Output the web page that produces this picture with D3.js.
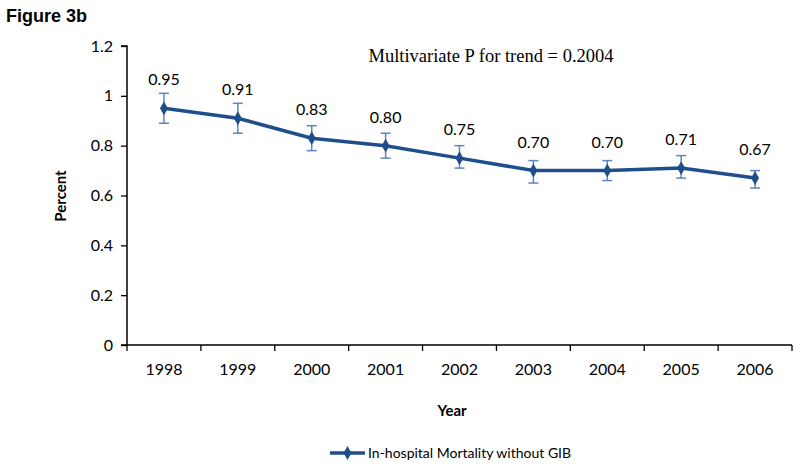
<!DOCTYPE html>
<html>
<head>
<meta charset="utf-8">
<script src="https://cdn.jsdelivr.net/npm/d3@7"></script>
<style>
body { margin: 0; background: #fff; }
</style>
</head>
<body>
<div id="chart"></div>
<script>
var years = ["1998", "1999", "2000", "2001", "2002", "2003", "2004", "2005", "2006"];
var mortality = [0.95, 0.91, 0.83, 0.80, 0.75, 0.70, 0.70, 0.71, 0.67];
var lower = [0.89, 0.85, 0.78, 0.75, 0.71, 0.65, 0.66, 0.67, 0.63];
var upper = [1.01, 0.97, 0.88, 0.85, 0.80, 0.74, 0.74, 0.76, 0.70];
var yTicks = [0, 0.2, 0.4, 0.6, 0.8, 1, 1.2];

var width = 800, height = 469;
var labelFont = "Lato, 'Open Sans', sans-serif";

var svg = d3.select("#chart").append("svg")
    .attr("width", width)
    .attr("height", height);

var xScale = d3.scaleBand()
    .domain(years)
    .range([127, 792]);

var yScale = d3.scaleLinear()
    .domain([0, 1.2])
    .range([345, 46]);

var data = years.map(function (y, i) {
    return { year: y, value: mortality[i], lo: lower[i], hi: upper[i] };
});

// y axis
var yAxis = d3.axisLeft(yScale)
    .tickValues(yTicks)
    .tickSize(6)
    .tickFormat(function (d) { return d3.format("")(+d.toFixed(1)); });

var gy = svg.append("g")
    .attr("transform", "translate(127,0)")
    .call(yAxis);
gy.select(".domain").attr("stroke", "#000").attr("stroke-width", 1.5).attr("d", "M-6,46H0V345H-6");
gy.selectAll(".tick line").attr("stroke", "#000").attr("stroke-width", 1.3);
gy.selectAll(".tick text")
    .attr("x", -14)
    .style("font-family", labelFont)
    .style("font-size", "16px")
    .attr("fill", "#000");

// x axis, ticks between categories
var gx = svg.append("g")
    .attr("transform", "translate(0,345)");
gx.append("line")
    .attr("x1", 127).attr("x2", 792)
    .attr("stroke", "#000").attr("stroke-width", 1.5);
var boundaries = years.map(function (y) { return xScale(y); }).concat([xScale.range()[1]]);
gx.selectAll(".xtick").data(boundaries).enter().append("line")
    .attr("x1", function (d) { return d; })
    .attr("x2", function (d) { return d; })
    .attr("y1", 0).attr("y2", 6)
    .attr("stroke", "#000").attr("stroke-width", 1.3);
gx.selectAll(".xlabel").data(years).enter().append("text")
    .attr("x", function (d) { return xScale(d) + xScale.bandwidth() / 2; })
    .attr("y", 30)
    .attr("text-anchor", "middle")
    .style("font-family", labelFont)
    .style("font-size", "16px")
    .text(function (d) { return d; });

function cx(d) { return xScale(d.year) + xScale.bandwidth() / 2; }

// error bars
var err = svg.append("g").attr("stroke", "#5b86c0").attr("stroke-width", 1.5);
err.selectAll(".ev").data(data).enter().append("line")
    .attr("x1", cx).attr("x2", cx)
    .attr("y1", function (d) { return yScale(d.lo); })
    .attr("y2", function (d) { return yScale(d.hi); });
err.selectAll(".et").data(data).enter().append("line")
    .attr("x1", function (d) { return cx(d) - 5; })
    .attr("x2", function (d) { return cx(d) + 5; })
    .attr("y1", function (d) { return yScale(d.hi); })
    .attr("y2", function (d) { return yScale(d.hi); });
err.selectAll(".eb").data(data).enter().append("line")
    .attr("x1", function (d) { return cx(d) - 5; })
    .attr("x2", function (d) { return cx(d) + 5; })
    .attr("y1", function (d) { return yScale(d.lo); })
    .attr("y2", function (d) { return yScale(d.lo); });

// line
var line = d3.line()
    .x(cx)
    .y(function (d) { return yScale(d.value); });
svg.append("path")
    .datum(data)
    .attr("d", line)
    .attr("fill", "none")
    .attr("stroke", "#1f4e8c")
    .attr("stroke-width", 3.5);

var diamond = d3.symbol().type(d3.symbolDiamond).size(55);
svg.selectAll(".pt").data(data).enter().append("path")
    .attr("d", diamond)
    .attr("transform", function (d) { return "translate(" + cx(d) + "," + yScale(d.value) + ")"; })
    .attr("fill", "#1f4e8c");

// value labels
svg.selectAll(".val").data(data).enter().append("text")
    .attr("x", cx)
    .attr("y", function (d) { return yScale(d.value) - 23; })
    .attr("text-anchor", "middle")
    .style("font-family", labelFont)
    .style("font-size", "16px")
    .text(function (d) { return d.value.toFixed(2); });

// titles
svg.append("text")
    .attr("x", 6).attr("y", 22)
    .style("font-family", "Arial, 'Liberation Sans', sans-serif")
    .style("font-weight", "bold")
    .style("font-size", "18px")
    .text("Figure 3b");

svg.append("text")
    .attr("x", 491).attr("y", 62)
    .attr("text-anchor", "middle")
    .style("font-family", "'Times New Roman', 'Liberation Serif', serif")
    .style("font-size", "18.5px")
    .text("Multivariate P for trend = 0.2004");

svg.append("text")
    .attr("transform", "translate(66,196) rotate(-90)")
    .attr("text-anchor", "middle")
    .style("font-family", labelFont)
    .style("font-weight", "bold")
    .style("font-size", "15px")
    .text("Percent");

svg.append("text")
    .attr("x", 452).attr("y", 416)
    .attr("text-anchor", "middle")
    .style("font-family", labelFont)
    .style("font-weight", "bold")
    .style("font-size", "15px")
    .text("Year");

// legend
var lg = svg.append("g").attr("transform", "translate(330,453)");
lg.append("line")
    .attr("x1", 0).attr("x2", 35)
    .attr("stroke", "#1f4e8c").attr("stroke-width", 3.5);
lg.append("path")
    .attr("d", diamond)
    .attr("transform", "translate(17.5,0)")
    .attr("fill", "#1f4e8c");
lg.append("text")
    .attr("x", 38).attr("y", 5)
    .style("font-family", labelFont)
    .style("font-size", "14px")
    .text("In-hospital Mortality without GIB");
</script>
</body>
</html>
